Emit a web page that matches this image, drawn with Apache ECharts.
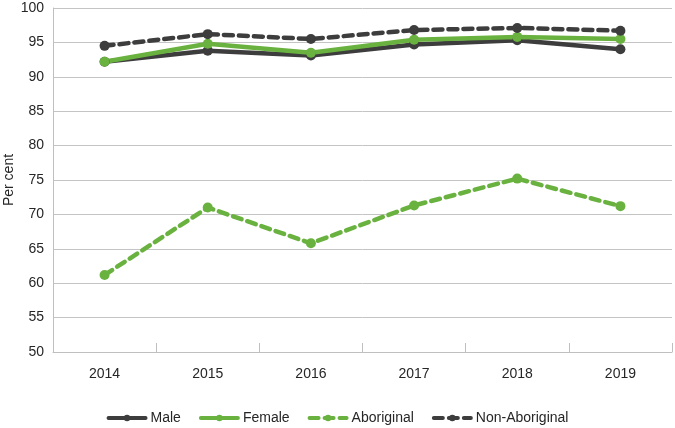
<!DOCTYPE html>
<html>
<head>
<meta charset="utf-8">
<script src="https://cdn.jsdelivr.net/npm/echarts@6/dist/echarts.min.js"></script>
<style>html,body{margin:0;padding:0;background:#fff}#c{width:675px;height:428px}</style>
</head>
<body>
<div id="c"></div>
<script>
var years = ['2014','2015','2016','2017','2018','2019'];
var male = [92.2, 93.8, 93.1, 94.7, 95.3, 94.0];
var female = [92.2, 94.8, 93.5, 95.4, 95.8, 95.5];
var aboriginal = [61.2, 71.0, 65.8, 71.3, 75.2, 71.2];
var nonAboriginal = [94.5, 96.2, 95.5, 96.8, 97.1, 96.7];
var yTicks = [50, 55, 60, 65, 70, 75, 80, 85, 90, 95, 100];
var yTitle = 'Per cent';

var DARK = '#3d3d3d', GREEN = '#6ab23f';
var FONT = "'Liberation Sans', Arial, sans-serif";
function mk(name, data, color, dashed) {
  return {
    name: name, type: 'line', data: data, symbol: 'circle', symbolSize: 10,
    lineStyle: {color: color, width: 4.5, type: dashed ? [9, 6] : 'solid', cap: 'round'},
    itemStyle: {color: color}, emphasis: {disabled: true}
  };
}
var chart = echarts.init(document.getElementById('c'));
chart.setOption({
  animation: false,
  textStyle: {fontFamily: FONT},
  grid: {left: 53, right: 3, top: 8, bottom: 76, containLabel: false, outerBoundsMode: 'none'},
  graphic: [{
    type: 'text', x: 9, y: 180, rotation: Math.PI / 2,
    style: {text: yTitle, font: "14px 'Liberation Sans', Arial, sans-serif", fill: '#262626',
            align: 'center', verticalAlign: 'middle'}
  }],
  legend: {
    top: 406, left: 'center', itemWidth: 37, itemHeight: 8, itemGap: 18,
    lineStyle: {width: 4},
    textStyle: {fontFamily: FONT, fontSize: 14, color: '#262626'},
    data: ['Male', 'Female', 'Aboriginal', 'Non-Aboriginal']
  },
  xAxis: {
    type: 'category', data: years, boundaryGap: true,
    axisLine: {lineStyle: {color: '#bfbfbf', width: 1}},
    axisTick: {show: true, inside: true, length: 9, lineStyle: {color: '#bfbfbf'}},
    axisLabel: {fontFamily: FONT, fontSize: 14, color: '#262626', margin: 15}
  },
  yAxis: {
    type: 'value', min: yTicks[0], max: yTicks[yTicks.length - 1], interval: 5,
    axisLine: {show: true, lineStyle: {color: '#bfbfbf'}},
    axisTick: {show: false},
    axisLabel: {fontFamily: FONT, fontSize: 14, color: '#262626', margin: 9},
    splitLine: {lineStyle: {color: '#c4c4c4', width: 1}}
  },
  series: [
    mk('Male', male, DARK, false),
    mk('Female', female, GREEN, false),
    mk('Aboriginal', aboriginal, GREEN, true),
    mk('Non-Aboriginal', nonAboriginal, DARK, true)
  ]
});
</script>
</body>
</html>
